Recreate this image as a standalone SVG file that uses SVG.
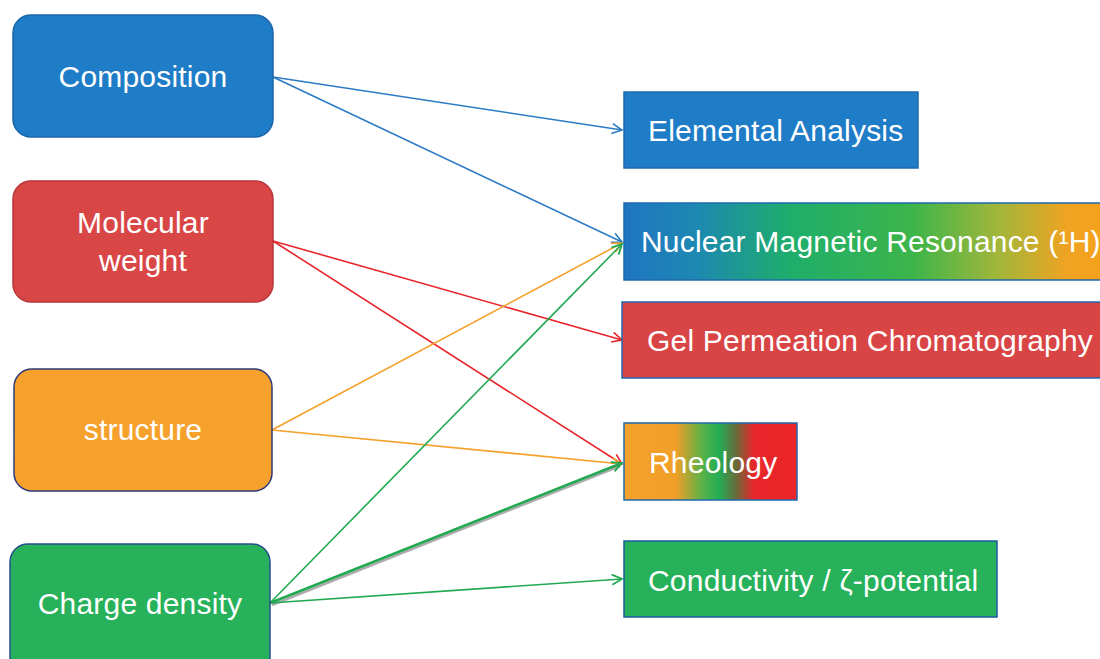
<svg xmlns="http://www.w3.org/2000/svg" width="1100" height="659" viewBox="0 0 1100 659">
<style>
.t{font-family:"Liberation Sans",Arial,sans-serif;font-size:30px;letter-spacing:0.2px;fill:#ffffff}
.c{text-anchor:middle}
.ln{fill:none;stroke-width:1.6}
.lb{stroke:#2b7bc4}.lr{stroke:#e8262b}.lo{stroke:#f5a12c}.lg{stroke:#22a951}
</style>
<defs>
<marker id="ab" markerWidth="14" markerHeight="14" refX="11" refY="6" orient="auto" markerUnits="userSpaceOnUse"><path d="M1,1 L11,6 L1,11" fill="none" stroke="#2b7bc4" stroke-width="1.6"/></marker>
<marker id="ar" markerWidth="14" markerHeight="14" refX="11" refY="6" orient="auto" markerUnits="userSpaceOnUse"><path d="M1,1 L11,6 L1,11" fill="none" stroke="#e8262b" stroke-width="1.6"/></marker>
<marker id="ao" markerWidth="14" markerHeight="14" refX="11" refY="6" orient="auto" markerUnits="userSpaceOnUse"><path d="M1,1 L11,6 L1,11" fill="none" stroke="#f5a12c" stroke-width="1.6"/></marker>
<marker id="ag" markerWidth="14" markerHeight="14" refX="11" refY="6" orient="auto" markerUnits="userSpaceOnUse"><path d="M1,1 L11,6 L1,11" fill="none" stroke="#22a951" stroke-width="1.8"/></marker>
<linearGradient id="gNMR" x1="0" y1="0" x2="1" y2="0">
<stop offset="0" stop-color="#1f76c2"/>
<stop offset="0.15" stop-color="#1d88b2"/>
<stop offset="0.35" stop-color="#1fae6a"/>
<stop offset="0.6" stop-color="#3cb54a"/>
<stop offset="0.78" stop-color="#a2b63a"/>
<stop offset="0.92" stop-color="#eea322"/>
<stop offset="1" stop-color="#f5a21c"/>
</linearGradient>
<linearGradient id="gRh" x1="0" y1="0" x2="1" y2="0">
<stop offset="0" stop-color="#f4a12a"/>
<stop offset="0.3" stop-color="#f09f28"/>
<stop offset="0.45" stop-color="#5bb246"/>
<stop offset="0.55" stop-color="#22ad55"/>
<stop offset="0.65" stop-color="#6a6a3a"/>
<stop offset="0.75" stop-color="#e8262b"/>
<stop offset="1" stop-color="#ec2528"/>
</linearGradient>
</defs>

<g id="connectors">
<line class="ln lb" x1="273" y1="77" x2="622" y2="130" marker-end="url(#ab)"/>
<line class="ln lb" x1="273" y1="77" x2="622" y2="242" marker-end="url(#ab)"/>
<line class="ln lr" x1="273" y1="241" x2="622" y2="340" marker-end="url(#ar)"/>
<line class="ln lr" x1="273" y1="241" x2="622" y2="464" marker-end="url(#ar)"/>
<line class="ln lo" x1="272" y1="430" x2="622" y2="243" marker-end="url(#ao)"/>
<line class="ln lo" x1="272" y1="430" x2="622" y2="464" marker-end="url(#ao)"/>
<line class="ln lg" x1="270" y1="603" x2="622" y2="244" marker-end="url(#ag)"/>
<line fill="none" stroke="#777777" stroke-opacity="0.6" stroke-width="2.5" x1="272" y1="605" x2="620" y2="466"/>
<line fill="none" stroke="#22a951" stroke-width="2.6" x1="270" y1="603" x2="622" y2="463" marker-end="url(#ag)"/>
<line class="ln lg" x1="270" y1="603" x2="622" y2="579" marker-end="url(#ag)"/>
</g>

<g id="composition">
<rect x="13" y="15" width="260" height="122" rx="18" fill="#1f7cc6" stroke="#1a66a8" stroke-width="1.5"/>
<text class="t c" x="143" y="87">Composition</text>
</g>
<g id="molecular-weight">
<rect x="13" y="181" width="260" height="121" rx="18" fill="#d94646" stroke="#b8353a" stroke-width="1.5"/>
<text class="t c" x="143" y="233">Molecular</text>
<text class="t c" x="143" y="271">weight</text>
</g>
<g id="structure">
<rect x="14" y="369" width="258" height="122" rx="18" fill="#f5a12c" stroke="#2e3a78" stroke-width="1.5"/>
<text class="t c" x="143" y="440">structure</text>
</g>
<g id="charge-density">
<rect x="10" y="544" width="260" height="130" rx="18" fill="#26b15a" stroke="#264f8c" stroke-width="1.5"/>
<text class="t c" x="140" y="614">Charge density</text>
</g>

<g id="elemental-analysis">
<rect x="624" y="92" width="294" height="76" fill="#1f7cc6" stroke="#1e69ad" stroke-width="1.5"/>
<text class="t" x="648" y="141">Elemental Analysis</text>
</g>
<g id="nmr">
<rect x="624" y="203" width="480" height="77" fill="url(#gNMR)" stroke="#1e69ad" stroke-width="1.5"/>
<text class="t" x="641" y="252">Nuclear Magnetic Resonance (¹H)</text>
</g>
<g id="gpc">
<rect x="622" y="302" width="490" height="76" fill="#d94545" stroke="#1e69ad" stroke-width="1.5"/>
<text class="t" x="647" y="351">Gel Permeation Chromatography</text>
</g>
<g id="rheology">
<rect x="624" y="423" width="173" height="77" fill="url(#gRh)" stroke="#1e69ad" stroke-width="1.5"/>
<text class="t" x="649" y="473">Rheology</text>
</g>
<g id="conductivity">
<rect x="624" y="541" width="373" height="76" fill="#26b15a" stroke="#1e5aa0" stroke-width="1.5"/>
<text class="t" x="648" y="591">Conductivity / ζ-potential</text>
</g>
</svg>
